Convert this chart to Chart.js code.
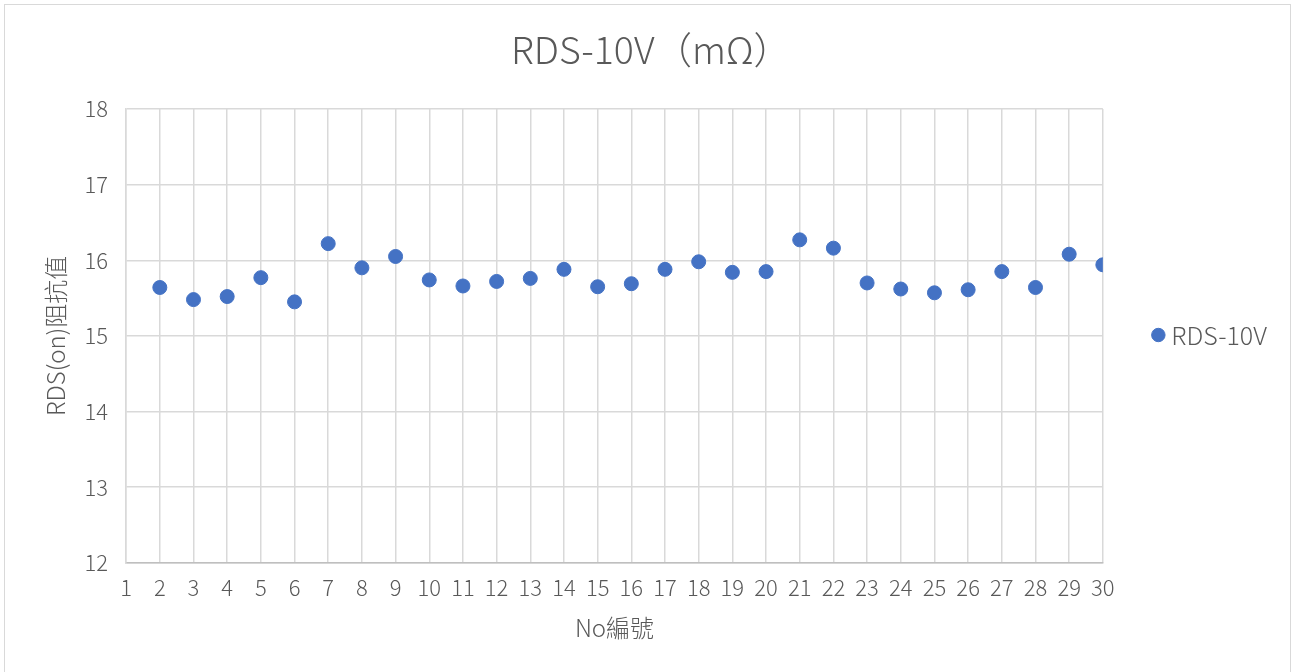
<!DOCTYPE html>
<html>
<head>
<meta charset="utf-8">
<script src="https://cdn.jsdelivr.net/npm/chart.js@4"></script>
<style>
  body { margin: 0; background: #fff; }
  #frame { position: absolute; left: 4px; top: 4px; width: 1287px; height: 680px; border: 1.5px solid #d9d9d9; box-sizing: border-box; }
  #wrap { position: absolute; left: 0; top: 0; width: 1293px; height: 672px; }
</style>
</head>
<body>
<div id="frame"></div>
<div id="wrap"><canvas id="myChart" width="1293" height="672"></canvas></div>
<script>
// sample numbers (No) and RDS(on) readings in mΩ
var xValues = [2, 3, 4, 5, 6, 7, 8, 9, 10, 11, 12, 13, 14, 15, 16, 17, 18, 19, 20, 21, 22, 23, 24, 25, 26, 27, 28, 29, 30];
var rdsValues = [15.64, 15.48, 15.52, 15.77, 15.45, 16.22, 15.90, 16.05, 15.74, 15.66, 15.72, 15.76, 15.88, 15.65, 15.69,
                 15.88, 15.98, 15.84, 15.85, 16.27, 16.16, 15.70, 15.62, 15.57, 15.61, 15.85, 15.64, 16.08, 15.94];
var seriesName = 'RDS-10V';
var chartTitle = 'RDS-10V（mΩ）';
var xTitle = 'No編號';
var yTitle = 'RDS(on)阻抗值';

const FONT = '"Noto Sans CJK TC", "Noto Sans", sans-serif';
const GREY = '#595959';

var points = [];
for (let i = 0; i < xValues.length; i++) {
    points.push({ x: xValues[i], y: rdsValues[i] });
}

const ctx = document.getElementById('myChart').getContext('2d');
var myChart = new Chart(ctx, {
    type: 'scatter',
    data: {
        datasets: [{
            label: seriesName,
            data: points,
            backgroundColor: '#4472C4',
            borderColor: '#4472C4',
            pointRadius: 7,
            pointHoverRadius: 7
        }]
    },
    options: {
        responsive: false,
        animation: false,
        layout: { padding: { left: 25, right: 16, top: 24, bottom: 26 } },
        plugins: {
            title: {
                display: true,
                text: chartTitle,
                color: GREY,
                font: { family: FONT, size: 37.5, weight: 300 },
                padding: { top: 3, bottom: 37 }
            },
            legend: {
                position: 'right',
                labels: {
                    color: GREY,
                    font: { family: FONT, size: 25, weight: 300 },
                    usePointStyle: true,
                    pointStyle: 'circle',
                    boxWidth: 1,
                    boxHeight: 9.5,
                    padding: 55
                }
            },
            tooltip: { enabled: false }
        },
        scales: {
            x: {
                type: 'linear',
                min: 1,
                max: 30,
                ticks: { stepSize: 1, color: GREY, font: { family: FONT, size: 22, weight: 300 }, padding: 12 },
                grid: { color: '#d9d9d9', lineWidth: 1.5, drawTicks: false },
                border: { color: '#bfbfbf', width: 1.5 },
                title: { display: true, text: xTitle, color: GREY, font: { family: FONT, size: 24, weight: 300 }, padding: { top: 0 } }
            },
            y: {
                min: 12,
                max: 18,
                ticks: { stepSize: 1, color: GREY, font: { family: FONT, size: 22, weight: 300 }, padding: 18 },
                grid: { color: '#d9d9d9', lineWidth: 1.5, drawTicks: false },
                border: { color: '#d9d9d9', width: 1.5 },
                title: { display: true, text: yTitle, color: GREY, font: { family: FONT, size: 24, weight: 300, lineHeight: 0.9 }, padding: { top: 20, bottom: 0 } }
            }
        }
    }
});
</script>
</body>
</html>
